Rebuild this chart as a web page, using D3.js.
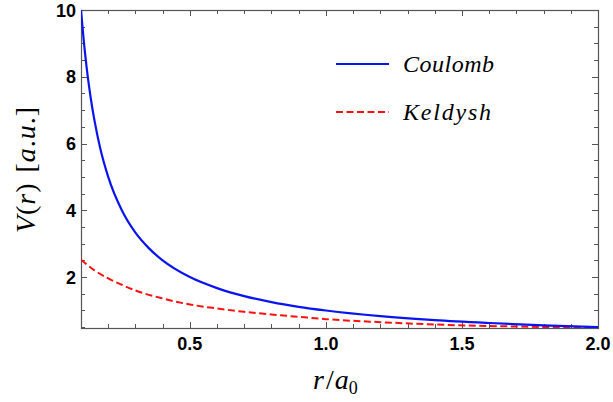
<!DOCTYPE html>
<html>
<head>
<meta charset="utf-8">
<script src="https://cdn.jsdelivr.net/npm/d3@7"></script>
<style>
  body { margin: 0; background: #fff; }
  svg { display: block; }
</style>
</head>
<body>
<div id="chart"></div>
<script>

// radius values (r / a0)
var coulombR = [0.1, 0.11, 0.12, 0.13, 0.14, 0.15, 0.17, 0.2, 0.25, 0.3, 0.35, 0.4, 0.5, 0.6, 0.7, 0.8, 0.9, 1.0, 1.2, 1.4, 1.6, 1.8, 2.0],
coulombV = [10, 9.09, 8.33, 7.69, 7.14, 6.67, 5.88, 5.0, 4.0, 3.33, 2.86, 2.5, 2.0, 1.67, 1.43, 1.25, 1.11, 1.0, 0.83, 0.71, 0.625, 0.556, 0.5];

var keldyshR = [0.1, 0.15, 0.2, 0.25, 0.3, 0.4, 0.5, 0.6, 0.7, 0.8, 0.9, 1.0, 1.2, 1.4, 1.6, 1.8, 2.0],
keldyshV = [2.52, 2.2, 1.96, 1.77, 1.6, 1.36, 1.18, 1.06, 0.96, 0.88, 0.81, 0.74, 0.65, 0.58, 0.535, 0.505, 0.48];

var xTicks = [0.5, 1.0, 1.5, 2.0],
yTicks = [2, 4, 6, 8, 10];

var width = 613,
height = 402,
mLeft = 81, mRight = 598, mTop = 10, mBottom = 328;

var svg = d3.select("#chart").append("svg")
.attr("width", width)
.attr("height", height);

var x = d3.scaleLinear().domain([0.1, 2.0]).range([mLeft, mRight]);
var y = d3.scaleLinear().domain([0.475, 10]).range([mBottom, mTop]);

// minor ticks
var xMinor = d3.range(2, 21).map(function(i){ return i / 10; });
var yMinor = d3.range(1, 21).map(function(i){ return i / 2; }).filter(function(v){ return v >= 0.475; });

var frameColor = "#555";

function isMajor(v, list) {
	return list.some(function(t){ return Math.abs(t - v) < 1e-6; });
}

// ticks: all four sides, pointing inward
var tickG = svg.append("g").attr("stroke", frameColor).attr("stroke-width", 1);

xMinor.forEach(function(v) {
	var len = isMajor(v, xTicks) ? 6 : 4;
	var px = Math.round(x(v)) + 0.5;
	tickG.append("line").attr("x1", px).attr("x2", px).attr("y1", mBottom).attr("y2", mBottom - len);
	tickG.append("line").attr("x1", px).attr("x2", px).attr("y1", mTop).attr("y2", mTop + len);
});

yMinor.forEach(function(v) {
	var len = isMajor(v, yTicks) ? 6 : 4;
	var py = Math.round(y(v)) + 0.5;
	tickG.append("line").attr("x1", mLeft).attr("x2", mLeft + len).attr("y1", py).attr("y2", py);
	tickG.append("line").attr("x1", mRight).attr("x2", mRight - len).attr("y1", py).attr("y2", py);
});

// frame
svg.append("rect")
.attr("x", mLeft + 0.5).attr("y", mTop + 0.5)
.attr("width", mRight - mLeft).attr("height", mBottom - mTop)
.attr("fill", "none")
.attr("stroke", frameColor)
.attr("stroke-width", 1.2);

// tick labels
var tickFont = "'Liberation Sans', Arial, sans-serif";

svg.selectAll("text.xt")
.data(xTicks)
.enter().append("text")
.attr("class", "xt")
.attr("x", function(d){ return x(d); })
.attr("y", 350)
.attr("text-anchor", "middle")
.attr("font-family", tickFont)
.attr("font-weight", "bold")
.attr("font-size", 18)
.text(function(d){ return d.toFixed(1); });

svg.selectAll("text.yt")
.data(yTicks)
.enter().append("text")
.attr("class", "yt")
.attr("x", 76)
.attr("y", function(d){ return y(d) + 6.5; })
.attr("text-anchor", "end")
.attr("font-family", tickFont)
.attr("font-weight", "bold")
.attr("font-size", 18)
.text(function(d){ return d; });

// curves
svg.append("clipPath").attr("id", "plotclip")
.append("rect").attr("x", mLeft).attr("y", mTop - 1).attr("width", mRight - mLeft).attr("height", mBottom - mTop + 1);

var line = d3.line()
.x(function(d){ return x(d[0]); })
.y(function(d){ return y(d[1]); })
.curve(d3.curveMonotoneX);

var coulomb = d3.zip(coulombR, coulombV),
keldysh = d3.zip(keldyshR, keldyshV);

var plot = svg.append("g").attr("clip-path", "url(#plotclip)");

plot.append("path")
.datum(keldysh)
.attr("fill", "none")
.attr("stroke", "#ff1010")
.attr("stroke-width", 2)
.attr("stroke-dasharray", "7,3.5")
.attr("d", line);

plot.append("path")
.datum(coulomb)
.attr("fill", "none")
.attr("stroke", "#0a14f0")
.attr("stroke-width", 2.2)
.attr("d", line);

// legend
var mathFont = "'Liberation Serif', 'Times New Roman', serif";

svg.append("line")
.attr("x1", 336).attr("x2", 389).attr("y1", 64).attr("y2", 64)
.attr("stroke", "#0a14f0").attr("stroke-width", 2);
svg.append("line")
.attr("x1", 336).attr("x2", 389).attr("y1", 112).attr("y2", 112)
.attr("stroke", "#ff1010").attr("stroke-width", 2)
.attr("stroke-dasharray", "7,3.5");

svg.append("text")
.attr("x", 403).attr("y", 72)
.attr("font-family", mathFont)
.attr("font-style", "italic")
.attr("font-size", 24)
.attr("textLength", 91)
.text("Coulomb");

svg.append("text")
.attr("x", 403).attr("y", 120)
.attr("font-family", mathFont)
.attr("font-style", "italic")
.attr("font-size", 24)
.attr("textLength", 88)
.text("Keldysh");

// axis labels
var xl = svg.append("text")
.attr("x", 313).attr("y", 389)
.attr("font-family", mathFont)
.attr("font-size", 28);
xl.append("tspan").attr("font-style", "italic").text("r");
xl.append("tspan").attr("dx", 2).text("/");
xl.append("tspan").attr("dx", 1).attr("font-style", "italic").text("a");
xl.append("tspan").attr("font-size", 18).attr("dy", 5).text("0");

var yl = svg.append("text")
.attr("transform", "translate(35,170) rotate(-90)")
.attr("text-anchor", "middle")
.attr("font-family", mathFont)
.attr("font-size", 28)
.attr("textLength", 126)
.attr("lengthAdjust", "spacing");
yl.append("tspan").attr("font-style", "italic").text("V");
yl.append("tspan").text("(");
yl.append("tspan").attr("font-style", "italic").text("r");
yl.append("tspan").text(")");
yl.append("tspan").attr("dx", 10).text("[");
yl.append("tspan").attr("font-style", "italic").text("a");
yl.append("tspan").text(".");
yl.append("tspan").attr("font-style", "italic").text("u");
yl.append("tspan").text(".");
yl.append("tspan").text("]");

</script>
</body>
</html>
